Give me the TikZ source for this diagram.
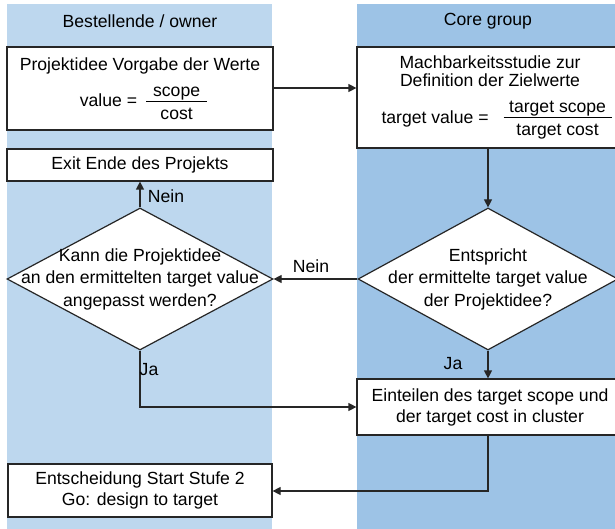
\documentclass[tikz,border=0pt]{standalone}
\usepackage{fontspec}
\setmainfont{Liberation Sans}
\usetikzlibrary{arrows.meta,shapes.geometric}
\definecolor{laneL}{HTML}{BDD7EE}
\definecolor{laneR}{HTML}{9DC3E6}
\definecolor{ln}{HTML}{262626}
\newcommand{\myfrac}[3]{{\setlength{\arrayrulewidth}{1.1pt}\renewcommand{\arraystretch}{0}\setlength{\tabcolsep}{0pt}\begin{tabular}[c]{@{\hspace{#3}}c@{\hspace{#3}}}\rule[-4.5pt]{0pt}{18.5pt}#1\\\hline\rule[-4pt]{0pt}{21.5pt}#2\end{tabular}}}
\begin{document}
\begin{tikzpicture}[x=1pt,y=-1pt,
  font=\fontsize{17.6}{21}\selectfont,
  box/.style={draw=ln, fill=white, line width=1.2pt, inner sep=0pt, align=center},
  dia/.style={diamond, draw=ln, fill=white, line width=1.2pt, inner sep=0pt},
  dtext/.style={align=center, inner sep=0pt, font=\fontsize{17.6}{22.5}\selectfont},
  lbl/.style={inner sep=0pt},
  arr/.style={draw=ln, line width=1.2pt, -{Triangle[length=8pt,width=8pt]}},
  conn/.style={draw=ln, line width=1.2pt}]
\useasboundingbox (0,0) rectangle (615,529);
\clip (0,0) rectangle (615,529);
% lanes
\fill[laneL] (7,4) rectangle (272,529);
\fill[laneR] (357,4) rectangle (615,529);
\node (hL) at (140,21) {Bestellende / owner};
\node (hR) at (488,21) {Core group};
% boxes
\node[box, minimum width=266, minimum height=83] (b1) at (140,88.5)
  {\rule{0pt}{16.5pt}Projektidee Vorgabe der Werte\\[7pt]\hspace*{7pt}value =\hspace{9pt}\myfrac{scope}{cost}{7pt}};
\node[box, minimum width=266, minimum height=101] (b2) at (490,97.5)
  {Machbarkeitsstudie zur\\[-3pt]Definition der Zielwerte\\[11pt]\hspace*{13pt}target value =\hspace{15pt}\myfrac{target scope}{target cost}{5.5pt}};
\node[box, minimum width=266, minimum height=32] (ex) at (140,165) {Exit Ende des Projekts};
\node[dia, minimum width=266, minimum height=142] (d1) at (140,279) {};
\node[dtext] (d1t) at (d1.center) {Kann die Projektidee\\ an den ermittelten target value\\ angepasst werden?};
\node[dia, minimum width=260, minimum height=142] (d2) at (488,279) {};
\node[dtext] (d2t) at (d2.center) {Entspricht\\ der ermittelte target value\\ der Projektidee?};
\node[box, minimum width=266, minimum height=56] (b3) at (490,407)
  {Einteilen des target scope und\\ der target cost in cluster};
\node[box, minimum width=264, minimum height=53] (b4) at (140,490.5)
  {Entscheidung Start Stufe 2\\ Go: design to target};
% connectors
\draw[arr] (b1.east |- 0,88) -- (b2.west |- 0,88);
\draw[arr] (d2.north |- b2.south) -- (d2.north);
\draw[arr] (d2.west) -- (d1.east);
\draw[arr] (d1.north) -- (ex.south);
\draw[arr] (d1.south) -- (d1.south |- b3.west) -- (b3.west);
\draw[arr] (d2.south) -- (d2.south |- b3.north);
\draw[arr] (d2.south |- b3.south) -- (d2.south |- 0,491) -- (b4.east |- 0,491);
% labels
\node[lbl] (n1) at (311,266) {Nein};
\node[lbl] (n2) at (166,196) {Nein};
\node[lbl] (j1) at (149,370) {Ja};
\node[lbl] (j2) at (453,364) {Ja};
\end{tikzpicture}
\end{document}
